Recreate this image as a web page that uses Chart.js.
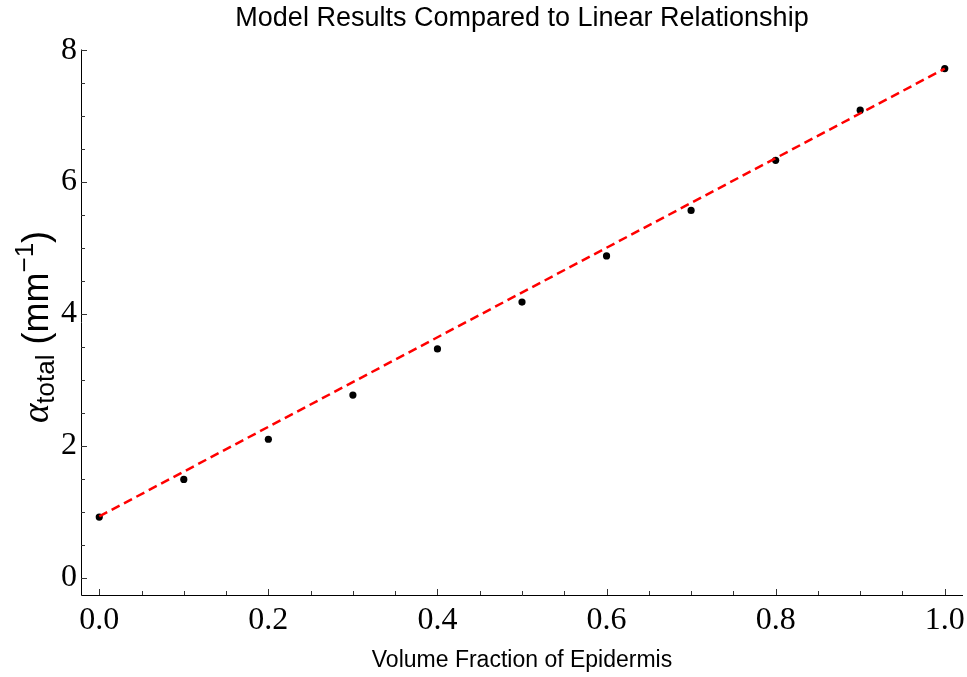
<!DOCTYPE html>
<html>
<head>
<meta charset="utf-8">
<script src="https://cdn.jsdelivr.net/npm/chart.js@4/dist/chart.umd.min.js"></script>
<style>
  html, body { margin: 0; padding: 0; background: #fff; }
</style>
</head>
<body>
<canvas id="chart" width="967" height="677"></canvas>
<script>
// model points
const volumeFraction = [0.0, 0.1, 0.2, 0.3, 0.4, 0.5, 0.6, 0.7, 0.8, 0.9, 1.0];
const alphaTotal = [0.92, 1.49, 2.10, 2.77, 3.47, 4.18, 4.88, 5.57, 6.33, 7.09, 7.72];

// linear relationship (end points)
const fitX = [0.0, 1.0];
const fitY = [0.93, 7.72];

// ticks
const xMajorTicks = [0.0, 0.2, 0.4, 0.6, 0.8, 1.0];
const xMinorTicks = [0.05, 0.1, 0.15, 0.25, 0.3, 0.35, 0.45, 0.5, 0.55, 0.65, 0.7, 0.75, 0.85, 0.9, 0.95];
const yMajorTicks = [0, 2, 4, 6, 8];
const yMinorTicks = [0.5, 1, 1.5, 2.5, 3, 3.5, 4.5, 5, 5.5, 6.5, 7, 7.5];

const pointData = volumeFraction.map((x, i) => ({ x: x, y: alphaTotal[i] }));
const fitData = fitX.map((x, i) => ({ x: x, y: fitY[i] }));

// axis frame with inward ticks, plus the y title with sub/superscript
const framePlugin = {
  id: 'frame',
  afterDatasetsDraw(chart) {
    const ctx = chart.ctx;
    const area = chart.chartArea;
    const xs = chart.scales.x;
    const ys = chart.scales.y;
    ctx.save();
    ctx.strokeStyle = '#000';
    ctx.lineWidth = 1;
    ctx.beginPath();
    ctx.moveTo(area.left + 0.5, area.top);
    ctx.lineTo(area.left + 0.5, area.bottom + 0.5);
    ctx.lineTo(area.right, area.bottom + 0.5);
    ctx.stroke();

    ctx.strokeStyle = '#333';
    const tick = (vals, len, horiz) => {
      vals.forEach(v => {
        ctx.beginPath();
        if (horiz) {
          const px = Math.round(xs.getPixelForValue(v)) + 0.5;
          ctx.moveTo(px, area.bottom);
          ctx.lineTo(px, area.bottom - len);
        } else {
          const py = Math.round(ys.getPixelForValue(v)) + 0.5;
          ctx.moveTo(area.left, py);
          ctx.lineTo(area.left + len, py);
        }
        ctx.stroke();
      });
    };
    tick(xMajorTicks, 6, true);
    tick(xMinorTicks, 4, true);
    tick(yMajorTicks, 6, false);
    tick(yMinorTicks, 4, false);

    // y axis title
    ctx.translate(48, 327);
    ctx.rotate(-Math.PI / 2);
    ctx.fillStyle = '#000';
    ctx.textBaseline = 'alphabetic';
    ctx.textAlign = 'left';
    const parts = [
      { text: 'α', font: 'italic 37px "Liberation Serif"', dy: 0 },
      { text: 'total', font: '26px "Liberation Sans"', dy: 6 },
      { text: ' (mm', font: '36px "Liberation Sans"', dy: 0 },
      { text: '−1', font: '26px "Liberation Sans"', dy: -15 },
      { text: ')', font: '36px "Liberation Sans"', dy: 0 }
    ];
    let total = 0;
    parts.forEach(p => { ctx.font = p.font; p.w = ctx.measureText(p.text).width; total += p.w; });
    let cx = -total / 2;
    parts.forEach(p => {
      ctx.font = p.font;
      ctx.fillText(p.text, cx, p.dy);
      cx += p.w;
    });
    ctx.restore();
  }
};

new Chart(document.getElementById('chart'), {
  type: 'scatter',
  data: {
    datasets: [
      {
        label: 'Linear',
        type: 'line',
        data: fitData,
        borderColor: '#ff0000',
        borderWidth: 2.5,
        borderDash: [9, 5],
        pointRadius: 0,
        fill: false
      },
      {
        label: 'Model',
        data: pointData,
        backgroundColor: '#000',
        borderWidth: 0,
        pointRadius: 3.6
      }
    ]
  },
  options: {
    responsive: false,
    animation: false,
    layout: { padding: { left: 0, right: 4, top: 0, bottom: 0 } },
    plugins: {
      legend: { display: false },
      tooltip: { enabled: false },
      title: {
        display: true,
        fullSize: false,
        text: 'Model Results Compared to Linear Relationship',
        color: '#000',
        font: { family: '"Liberation Sans"', size: 27, weight: 'normal' },
        padding: { top: 2, bottom: 15.1 }
      }
    },
    scales: {
      x: {
        type: 'linear',
        min: -0.0216,
        max: 1.0216,
        border: { display: false },
        grid: { display: false, drawTicks: false },
        afterBuildTicks: s => { s.ticks = xMajorTicks.map(v => ({ value: v })); },
        afterFit: s => { s.height = 82; s.paddingLeft = 0; s.paddingRight = 0; },
        ticks: {
          color: '#000',
          padding: 6,
          maxRotation: 0,
          font: { family: '"Liberation Serif"', size: 32 },
          callback: v => v.toFixed(1)
        },
        title: {
          display: true,
          text: 'Volume Fraction of Epidermis',
          color: '#000',
          font: { family: '"Liberation Sans"', size: 23 },
          padding: { top: 0, bottom: 3 }
        }
      },
      y: {
        type: 'linear',
        min: -0.262,
        max: 8.01,
        border: { display: false },
        grid: { display: false, drawTicks: false },
        afterBuildTicks: s => { s.ticks = yMajorTicks.map(v => ({ value: v })); },
        afterFit: s => { s.width = 81; s.paddingTop = 0; s.paddingBottom = 0; },
        ticks: {
          color: '#000',
          padding: 4,
          font: { family: '"Liberation Serif"', size: 32 },
          callback: v => String(v)
        }
      }
    }
  },
  plugins: [framePlugin]
});
</script>
</body>
</html>
